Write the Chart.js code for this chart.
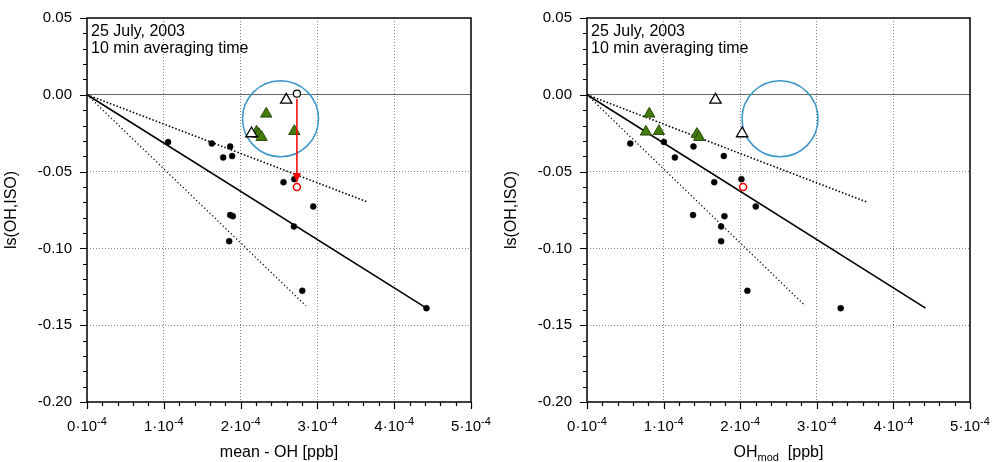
<!DOCTYPE html>
<html>
<head>
<meta charset="utf-8">
<script src="https://cdn.jsdelivr.net/npm/chart.js@4"></script>
<style>
  body { margin: 0; background: #fff; }
  #ram { position: relative; width: 992px; height: 462px; }
  canvas { position: absolute; top: 0; }
</style>
</head>
<body>
<div id="ram">
  <canvas id="vanster" width="496" height="462" style="left:0"></canvas>
  <canvas id="hoger" width="496" height="462" style="left:496px"></canvas>
</div>
<script>
// ls(OH,ISO) – samma mätvärden i båda panelerna
const lsPunkter = [-0.0308, -0.0317, -0.0336, -0.0408, -0.0399, -0.0569, -0.0549, -0.0727, -0.0783, -0.0790, -0.0953, -0.0857, -0.1276, -0.1389];
// OH i enheter av 1e-4 ppb
const ohMedel  = [1.056, 1.625, 1.864, 1.773, 1.890, 2.559, 2.699, 2.946, 1.864, 1.899, 1.851, 2.694, 2.803, 4.420];
const ohModell = [1.004, 0.565, 1.390, 1.147, 1.786, 1.661, 2.016, 2.203, 1.384, 1.794, 1.751, 1.751, 2.094, 3.312];

// gröna trianglar
const gronaLs     = [-0.0124, -0.0237, -0.0241, -0.0256, -0.0276];
const gronaMedel  = [2.334, 2.699, 2.207, 2.238, 2.273];
const gronaModell = [0.814, 0.939, 0.769, 1.434, 1.464];

// vita trianglar
const vitaLs     = [-0.0033, -0.0252];
const vitaMedel  = [2.594, 2.142];
const vitaModell = [1.677, 2.025];

// punkten före och efter korrektion (pilen)
const foreLs = 0.0007, efterLs = -0.0601;
const korrMedel = 2.733, korrModell = 2.038;

// cirkelns mittpunkt
const cirkelX = 2.52, cirkelY = -0.0156;

// anpassade linjer genom origo: [x, y] i slutpunkten
const linjeHel   = [4.42, -0.1389];
const linjeOvre  = [3.66, -0.0699];
const linjeUndre = [2.85, -0.1374];

const xEtiketter = ['0', '1', '2', '3', '4', '5'];
const yEtiketter = ['0.05', '0.00', '-0.05', '-0.10', '-0.15', '-0.20'];

const typsnitt = "'Liberation Sans', Arial, sans-serif";

function arHel(v) { return Math.abs(v - Math.round(v)) < 1e-6; }
const punkter = (xs, ys) => xs.map((x, i) => ({ x: x, y: ys[i] }));
const linje = p => [{ x: 0, y: 0 }, { x: p[0], y: p[1] }];

function ramPlugin(inst) {
  return {
    id: 'ram',
    afterDatasetsDraw(chart) {
      if (!inst.pil) return;
      const { ctx, scales: { x, y } } = chart;
      const px = x.getPixelForValue(inst.pil.x);
      const y1 = y.getPixelForValue(inst.pil.fran) + 5;
      const y2 = y.getPixelForValue(inst.pil.till) - 4;
      ctx.save();
      ctx.strokeStyle = '#ff0000';
      ctx.fillStyle = '#ff0000';
      ctx.lineWidth = 1.5;
      ctx.beginPath();
      ctx.moveTo(px, y1);
      ctx.lineTo(px, y2 - 6);
      ctx.stroke();
      ctx.beginPath();
      ctx.moveTo(px, y2);
      ctx.lineTo(px - 4, y2 - 10);
      ctx.lineTo(px + 4, y2 - 10);
      ctx.closePath();
      ctx.fill();
      ctx.restore();
    },
    afterDraw(chart) {
      const { ctx, chartArea: a, scales: { x, y } } = chart;
      ctx.save();
      ctx.strokeStyle = '#000';
      ctx.lineWidth = 1.5;
      ctx.strokeRect(a.left, a.top, a.right - a.left, a.bottom - a.top);

      // tickmarkeringar utåt
      ctx.lineWidth = 1.2;
      ctx.beginPath();
      x.ticks.forEach(t => {
        const px = Math.round(x.getPixelForValue(t.value)) + 0.5;
        const l = arHel(t.value) ? 7 : 4;
        ctx.moveTo(px, a.bottom);
        ctx.lineTo(px, a.bottom + l);
      });
      y.ticks.forEach(t => {
        const py = Math.round(y.getPixelForValue(t.value)) + 0.5;
        const l = arHel(t.value / 0.05) ? 7 : 4;
        ctx.moveTo(a.left, py);
        ctx.lineTo(a.left - l, py);
      });
      ctx.stroke();

      ctx.fillStyle = '#000';
      ctx.textBaseline = 'alphabetic';
      ctx.textAlign = 'left';

      // x-etiketter n·10^-4
      xEtiketter.forEach(n => {
        const bas = n + '·10', exp = '-4';
        ctx.font = '15px ' + typsnitt;
        const wb = ctx.measureText(bas).width;
        ctx.font = '11px ' + typsnitt;
        const we = ctx.measureText(exp).width;
        const x0 = x.getPixelForValue(Number(n)) - (wb + we) / 2;
        ctx.font = '15px ' + typsnitt;
        ctx.fillText(bas, x0, a.bottom + 29);
        ctx.font = '11px ' + typsnitt;
        ctx.fillText(exp, x0 + wb, a.bottom + 23);
      });

      // x-axelns titel
      const mitt = (a.left + a.right) / 2;
      const delar = inst.xTitel;
      let bredd = 0;
      delar.forEach(d => { ctx.font = d.s + 'px ' + typsnitt; bredd += ctx.measureText(d.t).width; });
      let cx = mitt - bredd / 2;
      delar.forEach(d => {
        ctx.font = d.s + 'px ' + typsnitt;
        ctx.fillText(d.t, cx, a.bottom + 55 + (d.dy || 0));
        cx += ctx.measureText(d.t).width;
      });

      // anteckning uppe till vänster
      ctx.font = '16px ' + typsnitt;
      ctx.fillText('25 July, 2003', a.left + 4, a.top + 17.5);
      ctx.fillText('10 min averaging time', a.left + 4, a.top + 35);

      // y-axelns titel
      ctx.translate(a.left - 75, (a.top + a.bottom) / 2);
      ctx.rotate(-Math.PI / 2);
      ctx.textAlign = 'center';
      ctx.textBaseline = 'middle';
      ctx.font = '16px ' + typsnitt;
      ctx.fillText('ls(OH,ISO)', 0, 0);
      ctx.restore();
    }
  };
}

function byggPanel(id, inst) {
  const ds = [];
  ds.push({ data: [{ x: inst.korrX, y: efterLs }], pointStyle: 'circle', pointRadius: 3.5,
            borderColor: '#ff0000', backgroundColor: '#ffffff', borderWidth: 1.5 });
  if (inst.pil) {
    ds.push({ data: [{ x: inst.korrX, y: foreLs }], pointStyle: 'circle', pointRadius: 3.5,
              borderColor: '#000', backgroundColor: '#ffffff', borderWidth: 1.2 });
  }
  ds.push({ data: punkter(inst.vitaX, vitaLs), pointStyle: 'triangle', pointRadius: 6.5,
            borderColor: '#000', backgroundColor: '#ffffff', borderWidth: 1.3 });
  ds.push({ data: punkter(inst.gronaX, gronaLs), pointStyle: 'triangle', pointRadius: 6.5,
            borderColor: '#2a4a0a', backgroundColor: '#447c0c', borderWidth: 1 });
  ds.push({ data: punkter(inst.svartaX, lsPunkter), pointStyle: 'circle', pointRadius: 3,
            borderColor: '#000', backgroundColor: '#000', borderWidth: 0.5 });
  ds.push({ data: [{ x: cirkelX, y: cirkelY }], pointStyle: 'circle', pointRadius: 38,
            borderColor: '#3a96c8', backgroundColor: 'rgba(0,0,0,0)', borderWidth: 1.5 });
  ds.push({ data: linje(linjeHel), showLine: true, pointRadius: 0, borderColor: '#000', borderWidth: 1.6 });
  ds.push({ data: linje(linjeOvre), showLine: true, pointRadius: 0, borderColor: '#000', borderWidth: 1.6, borderDash: [1.5, 2] });
  ds.push({ data: linje(linjeUndre), showLine: true, pointRadius: 0, borderColor: '#000', borderWidth: 1.3, borderDash: [1.2, 2.5] });

  new Chart(document.getElementById(id), {
    type: 'scatter',
    data: { datasets: ds },
    options: {
      responsive: false,
      animation: false,
      events: [],
      layout: { autoPadding: false, padding: { top: 18, right: inst.hoger, left: 0, bottom: 0 } },
      plugins: { legend: { display: false }, tooltip: { enabled: false } },
      scales: {
        x: {
          type: 'linear', min: 0, max: 5,
          ticks: { stepSize: 0.2, autoSkip: false, display: false },
          grid: {
            drawTicks: false, lineWidth: 1,
            color: c => (arHel(c.tick.value) && c.tick.value > 0 && c.tick.value < 5) ? '#858585' : 'rgba(0,0,0,0)'
          },
          border: { display: false, dash: [1, 2] },
          afterFit: s => { s.height = 60; s.paddingLeft = 0; s.paddingRight = 0; }
        },
        y: {
          type: 'linear', min: -0.2, max: 0.05,
          ticks: {
            stepSize: 0.01, autoSkip: false, padding: 15, color: '#000',
            font: { family: typsnitt, size: 15 },
            callback: v => {
              if (!arHel(v / 0.05)) return '';
              return yEtiketter[Math.round((0.05 - v) / 0.05)];
            }
          },
          grid: {
            drawTicks: false, lineWidth: 1,
            color: c => {
              const v = c.tick.value;
              if (Math.abs(v) < 1e-9) return '#666666';
              return (arHel(v / 0.05) && v > -0.2 + 1e-9 && v < 0.05 - 1e-9) ? '#858585' : 'rgba(0,0,0,0)';
            }
          },
          border: { display: false, dash: c => Math.abs(c.tick.value) < 1e-9 ? [] : [1, 2] },
          afterFit: s => { s.width = inst.vanster; s.paddingTop = 0; s.paddingBottom = 0; }
        }
      }
    },
    plugins: [ramPlugin(inst)]
  });
}

byggPanel('vanster', {
  vanster: 87, hoger: 25,
  svartaX: ohMedel, gronaX: gronaMedel, vitaX: vitaMedel, korrX: korrMedel,
  pil: { x: korrMedel, fran: foreLs, till: efterLs },
  xTitel: [{ t: 'mean - OH [ppb]', s: 16 }]
});

byggPanel('hoger', {
  vanster: 91, hoger: 22,
  svartaX: ohModell, gronaX: gronaModell, vitaX: vitaModell, korrX: korrModell,
  pil: null,
  xTitel: [{ t: 'OH', s: 16 }, { t: 'mod', s: 11, dy: 4 }, { t: '  [ppb]', s: 16 }]
});
</script>
</body>
</html>
